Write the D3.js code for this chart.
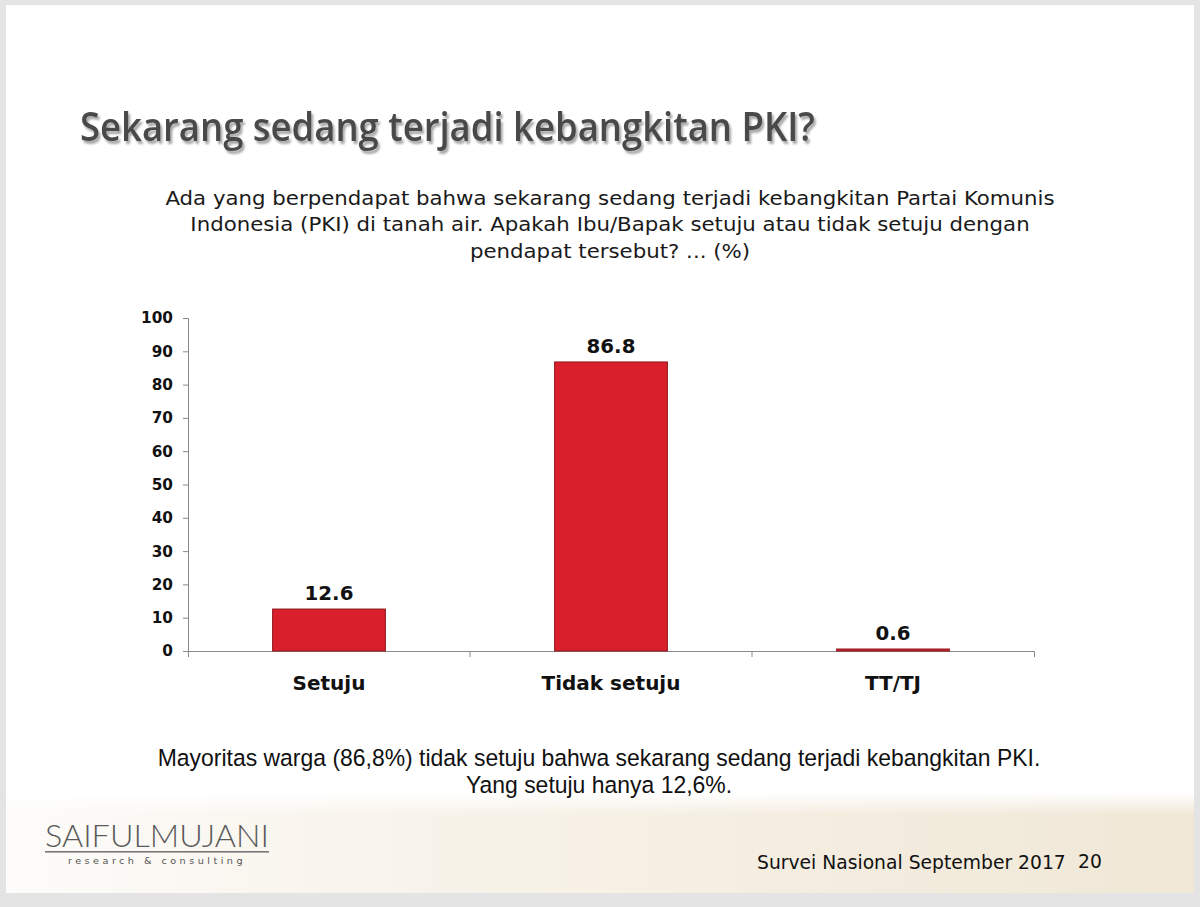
<!DOCTYPE html>
<html><head><meta charset="utf-8">
<script src="https://cdn.jsdelivr.net/npm/d3@7"></script>
<style>html,body{margin:0;padding:0;background:#e4e4e4;}svg{display:block;}</style>
</head><body>
<svg id="c" width="1200" height="907"></svg>
<script>
const categories = ["Setuju", "Tidak setuju", "TT/TJ"];
const values = [12.6, 86.8, 0.6];
const yTicks = [0, 10, 20, 30, 40, 50, 60, 70, 80, 90, 100];
const titleText = "Sekarang sedang terjadi kebangkitan PKI?";
const questionLines = [
  "Ada yang berpendapat bahwa sekarang sedang terjadi kebangkitan Partai Komunis",
  "Indonesia (PKI) di tanah air. Apakah Ibu/Bapak setuju atau tidak setuju dengan",
  "pendapat tersebut? ... (%)"
];
const noteLines = [
  "Mayoritas warga (86,8%) tidak setuju bahwa sekarang sedang terjadi kebangkitan PKI.",
  "Yang setuju hanya 12,6%."
];
const footerText = "Survei Nasional September 2017";
const pageNumber = "20";

const svg = d3.select("#c");
const defs = svg.append("defs");
const g1 = defs.append("linearGradient").attr("id","band").attr("x1",0).attr("x2",1).attr("y1",0).attr("y2",0);
g1.append("stop").attr("offset","0%").attr("stop-color","#fdfcfa");
g1.append("stop").attr("offset","35%").attr("stop-color","#f8f3ea");
g1.append("stop").attr("offset","100%").attr("stop-color","#f0e7d6");
const g2 = defs.append("linearGradient").attr("id","bandv").attr("x1",0).attr("x2",0).attr("y1",0).attr("y2",1);
g2.append("stop").attr("offset","0%").attr("stop-color","#ffffff").attr("stop-opacity",1);
g2.append("stop").attr("offset","100%").attr("stop-color","#ffffff").attr("stop-opacity",0);
const f = defs.append("filter").attr("id","sh").attr("x","-5%").attr("y","-20%").attr("width","110%").attr("height","150%");
f.append("feGaussianBlur").attr("in","SourceAlpha").attr("stdDeviation",1.2).attr("result","b");
f.append("feOffset").attr("in","b").attr("dx",2).attr("dy",3).attr("result","o");
f.append("feComponentTransfer").attr("in","o").attr("result","o2").append("feFuncA").attr("type","linear").attr("slope",0.35);
const fm = f.append("feMerge"); fm.append("feMergeNode").attr("in","o2"); fm.append("feMergeNode").attr("in","SourceGraphic");

// slide
svg.append("rect").attr("x",6).attr("y",5).attr("width",1188).attr("height",888).attr("fill","#ffffff");
svg.append("rect").attr("x",6).attr("y",793).attr("width",1188).attr("height",100).attr("fill","url(#band)");
svg.append("rect").attr("x",6).attr("y",793).attr("width",1188).attr("height",22).attr("fill","url(#bandv)");

// horizontal squeeze/stretch to reach a measured width, keeping the anchor point fixed
function fitX(sel, w, ax){
  const cur = sel.node().getComputedTextLength();
  const s = w/cur;
  sel.attr("transform", `translate(${ax},0) scale(${s.toFixed(4)},1) translate(${-ax},0)`);
  return s;
}

// title
const t = svg.append("text").attr("x",80).attr("y",141).attr("font-family","Open Sans, sans-serif")
  .attr("font-size",39).attr("font-weight",600).attr("fill","#4a4a4a").attr("filter","url(#sh)").text(titleText);
fitX(t, 735, 80);

// question
const qy = [205, 231, 258];
let qs = 1;
questionLines.forEach((l,i)=>{
  const s = svg.append("text").attr("x",610).attr("y",qy[i]).attr("text-anchor","middle")
    .attr("font-family","DejaVu Sans, sans-serif").attr("font-size",19.5).attr("fill","#1a1a1a").text(l);
  if(i===0) qs = fitX(s, 890, 610);
  else s.attr("transform", `translate(610,0) scale(${qs.toFixed(4)},1) translate(-610,0)`);
});

// chart
const x = d3.scaleBand().domain(categories).range([188, 1034]).paddingInner(0.6).paddingOuter(0.3);
const y = d3.scaleLinear().domain([0,100]).range([651, 318]);

const yAxis = svg.append("g").attr("transform","translate(188,0)")
  .call(d3.axisLeft(y).tickValues(yTicks).tickSize(5).tickPadding(10));
yAxis.select(".domain").attr("stroke","#8a8a8a").attr("d","M-5,318.5H0.5V657");
yAxis.selectAll(".tick line").attr("stroke","#8a8a8a");
yAxis.selectAll(".tick text").attr("font-family","DejaVu Sans, sans-serif").attr("font-weight","bold")
  .attr("font-size",15.3).attr("fill","#111");

const xAxis = svg.append("g").attr("transform","translate(0,651)")
  .call(d3.axisBottom(x).tickSize(0).tickPadding(0).tickFormat(""));
xAxis.select(".domain").attr("stroke","#8a8a8a").attr("d","M188,0.5H1034.5V6");
const bounds = categories.slice(1).map(c=>x(c) - x.step()*x.paddingInner()/2);
xAxis.selectAll(".sep").data(bounds).join("line").attr("class","sep")
  .attr("x1",d=>d).attr("x2",d=>d).attr("y1",0).attr("y2",6).attr("stroke","#8a8a8a");

svg.append("g").selectAll("rect").data(values).join("rect")
  .attr("x",(d,i)=>x(categories[i])).attr("width",x.bandwidth())
  .attr("y",d=>y(d)).attr("height",d=>y(0)-y(d))
  .attr("fill","#d91f2b").attr("stroke","#8e1a1d").attr("stroke-width",1);

svg.append("g").selectAll("text").data(values).join("text")
  .attr("x",(d,i)=>x(categories[i])+x.bandwidth()/2).attr("y",d=>y(d)-9)
  .attr("text-anchor","middle").attr("font-family","DejaVu Sans, sans-serif").attr("font-weight","bold")
  .attr("font-size",19.8).attr("fill","#111").text(d=>d.toFixed(1));

svg.append("g").selectAll("text").data(categories).join("text")
  .attr("x",d=>x(d)+x.bandwidth()/2).attr("y",690).attr("text-anchor","middle")
  .attr("font-family","DejaVu Sans, sans-serif").attr("font-weight","bold").attr("font-size",20)
  .attr("fill","#111").text(d=>d);

// note
const ny = [766, 793];
let ns = 1;
noteLines.forEach((l,i)=>{
  const s = svg.append("text").attr("x",599).attr("y",ny[i]).attr("text-anchor","middle")
    .attr("font-family","Liberation Sans, Arial, sans-serif").attr("font-size",23.5).attr("fill","#111").text(l);
  if(i===0) ns = fitX(s, 883, 599);
  else s.attr("transform", `translate(599,0) scale(${ns.toFixed(4)},1) translate(-599,0)`);
});

// logo
const lg = svg.append("text").attr("x",45).attr("y",847).attr("font-family","Lato, sans-serif").attr("font-weight",300)
  .attr("font-size",31).attr("fill","#5a5a5a").text("SAIFULMUJANI");
fitX(lg, 224, 45);
svg.append("rect").attr("x",45).attr("y",851).attr("width",224).attr("height",1.6).attr("fill","#777");
const rc = svg.append("text").attr("x",68).attr("y",864).attr("font-family","DejaVu Sans, sans-serif")
  .attr("font-size",9.5).attr("letter-spacing",3.4).attr("fill","#555").text("research & consulting");
fitX(rc, 178, 68);

// footer
const ft = svg.append("text").attr("x",757).attr("y",869).attr("font-family","DejaVu Sans, sans-serif")
  .attr("font-size",19).attr("fill","#111").text(footerText);
const fs = fitX(ft, 309, 757);
svg.append("text").attr("x",1078).attr("y",868).attr("font-family","DejaVu Sans, sans-serif")
  .attr("font-size",19).attr("fill","#111")
  .attr("transform", `translate(1078,0) scale(${fs.toFixed(4)},1) translate(-1078,0)`).text(pageNumber);
</script>
</body></html>
